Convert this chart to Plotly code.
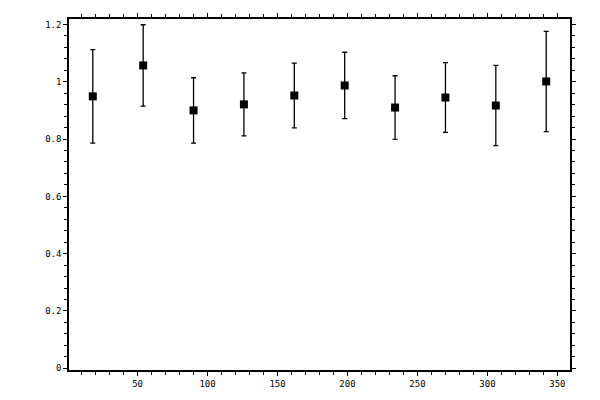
import plotly.graph_objects as go

# bin centres (degrees) and measured ratio with its error
angle = [18, 54, 90, 126, 162, 198, 234, 270, 306, 342]
ratio = [0.949, 1.057, 0.900, 0.921, 0.952, 0.987, 0.910, 0.945, 0.917, 1.001]
ratio_err = [0.163, 0.142, 0.114, 0.110, 0.113, 0.116, 0.111, 0.122, 0.140, 0.175]

x_ticks = [50, 100, 150, 200, 250, 300, 350]
y_ticks = [0, 0.2, 0.4, 0.6, 0.8, 1, 1.2]
y_tick_labels = ["0", "0.2", "0.4", "0.6", "0.8", "1", "1.2"]

fig = go.Figure()
fig.add_trace(
    go.Scatter(
        x=angle,
        y=ratio,
        mode="markers",
        marker=dict(symbol="square", size=8, color="black"),
        error_y=dict(type="data", array=ratio_err, visible=True,
                     color="black", thickness=1.3, width=2.5),
        showlegend=False,
    )
)

axis_style = dict(
    showline=True,
    linecolor="black",
    linewidth=1.5,
    mirror="ticks",
    ticks="outside",
    ticklen=4,
    tickwidth=1.3,
    tickcolor="black",
    showgrid=False,
    zeroline=False,
    tickfont=dict(family="DejaVu Sans Mono", size=9, color="black"),
)

fig.update_xaxes(
    range=[1, 359],
    tickvals=x_ticks,
    minor=dict(dtick=10, tick0=0, ticks="outside", ticklen=3, tickcolor="black", tickwidth=1),
    **axis_style,
)
fig.update_yaxes(
    range=[-0.006, 1.219],
    tickvals=y_ticks,
    ticktext=y_tick_labels,
    minor=dict(dtick=0.04, tick0=0, ticks="outside", ticklen=3, tickcolor="black", tickwidth=1),
    **axis_style,
)

fig.update_layout(
    width=600,
    height=400,
    margin=dict(l=69, r=30, t=19, b=30),
    plot_bgcolor="white",
    paper_bgcolor="white",
)

# drop the browser's default body margin so the figure sits at 0,0
fig.write_html(
    "out.html",
    config={"displayModeBar": False},
    post_script="document.body.style.margin='0';",
)
